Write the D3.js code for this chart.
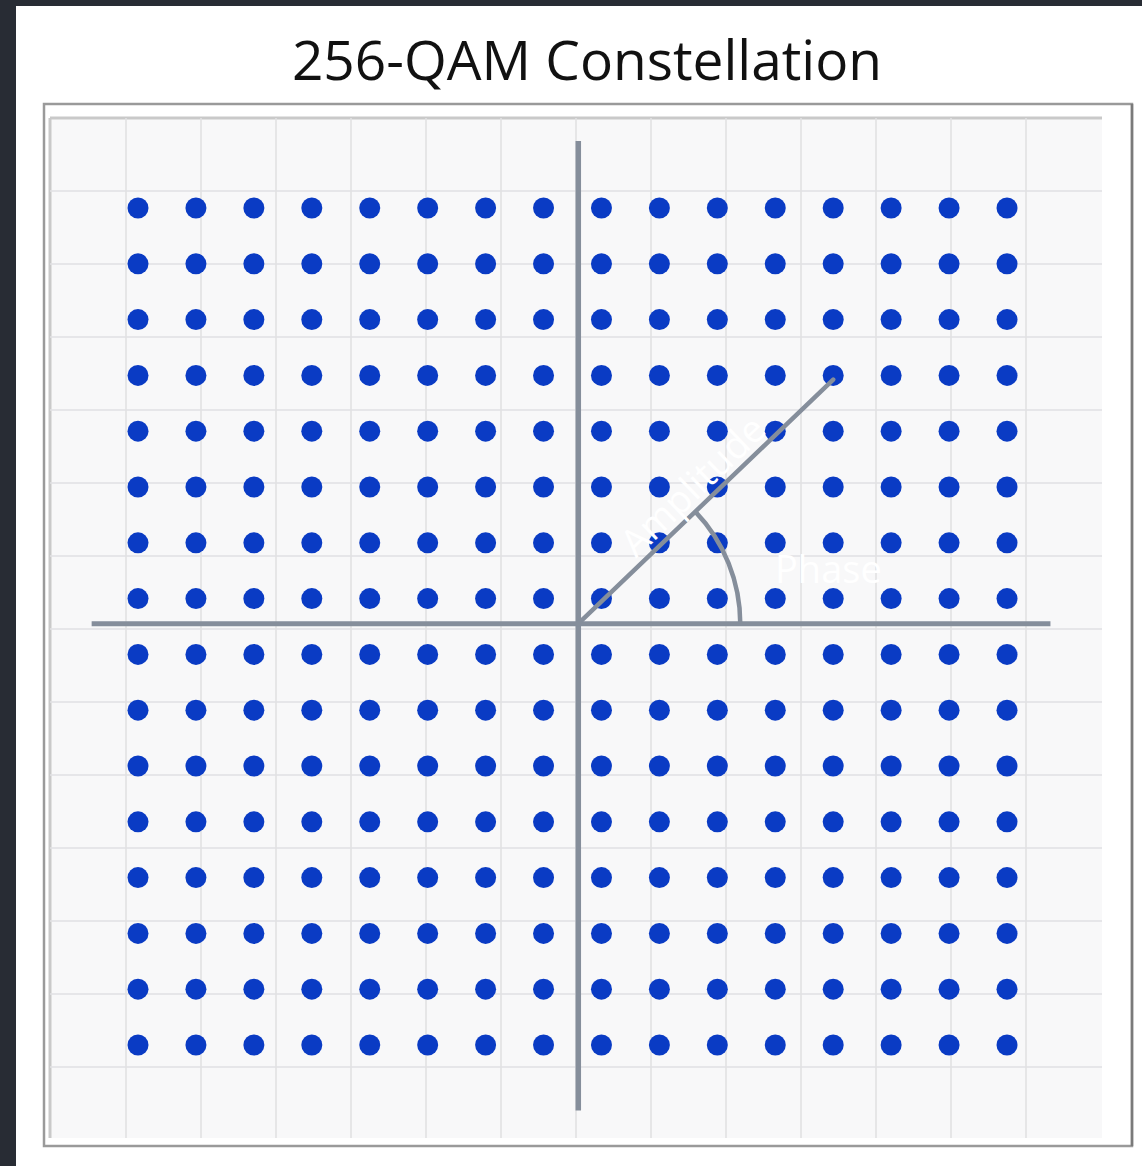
<!DOCTYPE html>
<html>
<head>
<meta charset="utf-8">
<script src="https://cdn.jsdelivr.net/npm/d3@7"></script>
<style>
  html, body { margin: 0; padding: 0; background: #282c34; }
  svg { display: block; }
</style>
</head>
<body>
<script>
// ---- data ----
const title = "256-QAM Constellation";
const iLevels = [-15, -13, -11, -9, -7, -5, -3, -1, 1, 3, 5, 7, 9, 11, 13, 15];
const qLevels = [-15, -13, -11, -9, -7, -5, -3, -1, 1, 3, 5, 7, 9, 11, 13, 15];
const gridSteps = [1, 2, 3, 4, 5, 6, 7, 8, 9, 10, 11, 12, 13];
const axisOrigin = [0.2, 0.1];
const axisExtentI = [-16.6, 16.5];
const axisExtentQ = [-17.35, 17.4];
const amplitudeTip = [9, 8.85];
const labels = { amplitude: "Amplitude", phase: "Phase" };

// ---- setup ----
const W = 1142, H = 1166;
const svg = d3.select("body").append("svg").attr("width", W).attr("height", H);

// white panel
svg.append("rect").attr("x", 16).attr("y", 6).attr("width", W - 16).attr("height", H - 6).attr("fill", "#ffffff");

// title
svg.append("text")
  .attr("x", 587).attr("y", 80)
  .attr("text-anchor", "middle")
  .attr("font-family", "'Open Sans', sans-serif")
  .attr("font-size", 55)
  .attr("fill", "#111111")
  .text(title);

// outer box
svg.append("rect").attr("x", 44).attr("y", 104).attr("width", 1088).attr("height", 1042)
  .attr("fill", "#ffffff").attr("stroke", "#9a9a9a").attr("stroke-width", 2.5);
svg.append("line").attr("x1", 1132).attr("x2", 1132).attr("y1", 104).attr("y2", 1146)
  .attr("stroke", "#7a7a7a").attr("stroke-width", 2.5);

// plot area
const px0 = 50, px1 = 1102, py0 = 118, py1 = 1138;
svg.append("rect").attr("x", px0).attr("y", py0).attr("width", px1 - px0).attr("height", py1 - py0)
  .attr("fill", "#f8f8f9");
// inset edges
svg.append("line").attr("x1", px0).attr("x2", px1).attr("y1", py0).attr("y2", py0)
  .attr("stroke", "#c9c9c9").attr("stroke-width", 3);
svg.append("line").attr("x1", px0).attr("x2", px0).attr("y1", py0).attr("y2", py1)
  .attr("stroke", "#c9c9c9").attr("stroke-width", 3);

// background grid scales
const gx = d3.scaleLinear().domain([0, 14]).range([51, 1101]);
const gy = d3.scaleLinear().domain([0, 14]).range([118, 1140]);
const grid = svg.append("g").attr("stroke", "#e1e1e3").attr("stroke-width", 1.6);
grid.selectAll("line.v").data(gridSteps).join("line").attr("class", "v")
  .attr("x1", d => gx(d)).attr("x2", d => gx(d)).attr("y1", py0).attr("y2", py1);
grid.selectAll("line.h").data(gridSteps).join("line").attr("class", "h")
  .attr("x1", px0).attr("x2", px1).attr("y1", d => gy(d)).attr("y2", d => gy(d));

// constellation scales
const x = d3.scaleLinear().domain([-15, 15]).range([138, 1007]);
const y = d3.scaleLinear().domain([-15, 15]).range([1045, 208]);

// points
const points = d3.cross(iLevels, qLevels);
svg.append("g").selectAll("circle").data(points).join("circle")
  .attr("cx", d => x(d[0])).attr("cy", d => y(d[1])).attr("r", 10.5)
  .attr("fill", "#0a3bc4");

// axes
const axCol = "#858e9b";
const ox = x(axisOrigin[0]), oy = y(axisOrigin[1]);
svg.append("line").attr("x1", ox).attr("x2", ox).attr("y1", y(axisExtentQ[1])).attr("y2", y(axisExtentQ[0]))
  .attr("stroke", axCol).attr("stroke-width", 5.5);
svg.append("line").attr("x1", x(axisExtentI[0])).attr("x2", x(axisExtentI[1])).attr("y1", oy).attr("y2", oy)
  .attr("stroke", axCol).attr("stroke-width", 5);

// amplitude vector
const tx = x(amplitudeTip[0]), ty = y(amplitudeTip[1]);
svg.append("line").attr("x1", ox).attr("y1", oy).attr("x2", tx).attr("y2", ty)
  .attr("stroke", axCol).attr("stroke-width", 4.5).attr("stroke-linecap", "round");

// phase arc
const ang = Math.atan2(oy - ty, tx - ox);
const r = 162;
svg.append("path")
  .attr("d", `M${ox + r},${oy} A${r},${r} 0 0 0 ${ox + r * Math.cos(ang)},${oy - r * Math.sin(ang)}`)
  .attr("fill", "none").attr("stroke", axCol).attr("stroke-width", 4.5);

// labels
const along = 178, off = 22;
const lx = ox + along * Math.cos(ang) - off * Math.sin(ang);
const ly = oy - along * Math.sin(ang) - off * Math.cos(ang);
svg.append("text")
  .attr("transform", `translate(${lx},${ly}) rotate(${-ang * 180 / Math.PI})`)
  .attr("text-anchor", "middle").attr("dominant-baseline", "central")
  .attr("font-family", "'Open Sans', sans-serif").attr("font-size", 38)
  .attr("fill", "#ffffff").text(labels.amplitude);
svg.append("text")
  .attr("x", 775).attr("y", 583)
  .attr("font-family", "'Open Sans', sans-serif").attr("font-size", 38)
  .attr("fill", "#ffffff").text(labels.phase);
</script>
</body>
</html>
